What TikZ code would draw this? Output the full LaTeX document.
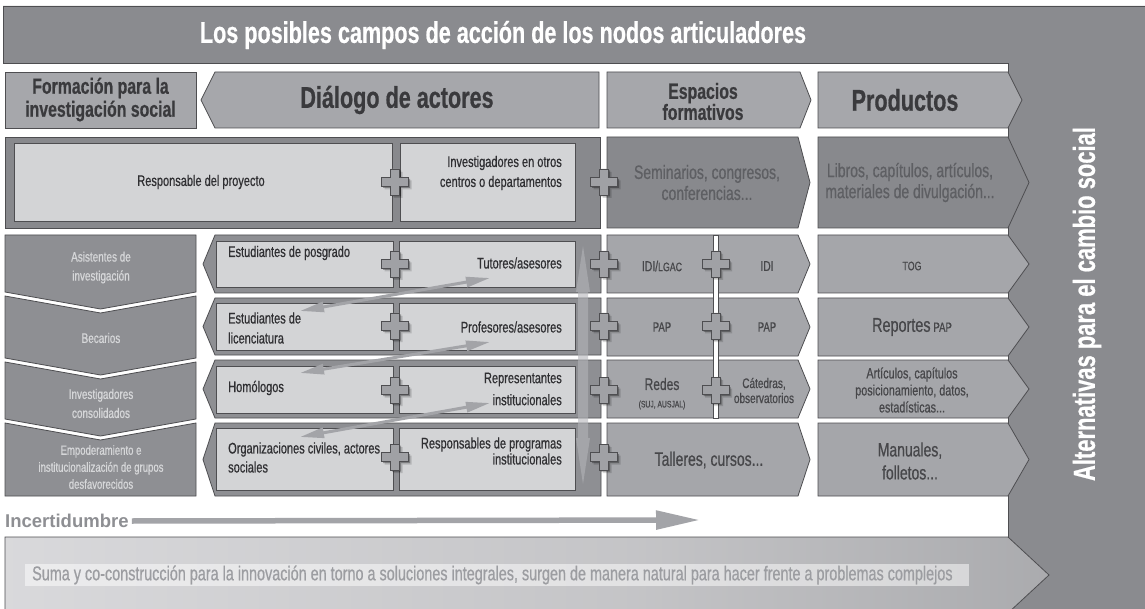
\documentclass[tikz,border=0pt]{standalone}
\usepackage{fontspec}
\setmainfont{Liberation Sans}
\newfontfamily\cnd[FakeStretch=0.72, FakeBold=0.6]{Liberation Sans}
\usetikzlibrary{arrows.meta,shadows}
\definecolor{cbar}{HTML}{8A8B8F}
\definecolor{cedge}{HTML}{4E4E51}
\definecolor{chdr}{HTML}{A6A7AB}
\definecolor{chdrtxt}{HTML}{3A3A3D}
\definecolor{crow}{HTML}{88898D}
\definecolor{cinner}{HTML}{D3D4D6}
\definecolor{cintxt}{HTML}{2F2F32}
\definecolor{crtxt}{HTML}{5E5F63}
\definecolor{cleft}{HTML}{8E8F93}
\definecolor{clefttxt}{HTML}{D6D7D9}
\definecolor{cmid}{HTML}{A5A6AA}
\definecolor{cmidtxt}{HTML}{47474A}
\definecolor{ccross}{HTML}{A0A1A5}
\definecolor{carrow}{HTML}{A3A4A8}
\definecolor{cband}{HTML}{B4B5B9}
\definecolor{cinc}{HTML}{8E8F93}
\definecolor{cbottxt}{HTML}{9C9DA1}
\newcommand{\fs}[2]{\fontsize{#1}{#2}\selectfont}
% right-pointing chevron: x1,y1,x2,y2,depth,style
\newcommand{\rchev}[6]{\path[#6] (#1,#2) -- (#3,#2) -- ({#3+#5},{(#2+#4)/2}) -- (#3,#4) -- (#1,#4) -- cycle;}
% left-pointing chevron: xtip,xbody,y1,x2,y2,style
\newcommand{\lchev}[6]{\path[#6] (#2,#3) -- (#4,#3) -- (#4,#5) -- (#2,#5) -- (#1,{(#3+#5)/2}) -- cycle;}
% down chevron (left column): ytop,topV,ybot,botV,style
\newcommand{\dchev}[5]{\path[#5] (5,#1) -- (100.5,{#1+#2}) -- (196,#1) -- (196,#3) -- (100.5,{#3+#4}) -- (5,#3) -- cycle;}
\pgfdeclarehorizontalshading{botgrad}{100bp}{rgb(0bp)=(0.72,0.72,0.73); rgb(25bp)=(0.85,0.85,0.86); rgb(55bp)=(0.77,0.77,0.78); rgb(100bp)=(0.54,0.545,0.56)}
\tikzset{
  bord/.style={draw=cedge, line width=0.8pt},
  hdr/.style={bord, fill=chdr},
  rowdark/.style={bord, fill=crow},
  innerbox/.style={bord, fill=cinner},
  leftbox/.style={bord, fill=cleft},
  dial/.style={bord, fill=cleft},
  midbox/.style={bord, fill=cmid},
  tTitle/.style={font=\cnd\bfseries\fs{30}{32}, text=white, inner sep=0pt},
  tHdr/.style={font=\cnd\bfseries\fs{30}{32}, text=chdrtxt, inner sep=0pt},
  tHdrS/.style={font=\cnd\bfseries\fs{22}{23}, text=chdrtxt, align=center, inner sep=0pt},
  tIn/.style={font=\cnd\fs{15.3}{20}, text=cintxt, inner sep=0pt},
  tLeft/.style={font=\cnd\fs{13.8}{19}, text=clefttxt, align=center, inner sep=0pt},
  tDark/.style={font=\cnd\fs{19.4}{21}, text=crtxt, align=center, inner sep=0pt},
  tMid/.style={font=\cnd\fs{14.4}{16}, text=cmidtxt, align=center, inner sep=0pt},
  diag/.style={draw=carrow, line width=3pt, {Triangle[length=24pt,width=10pt]}-{Triangle[length=24pt,width=10pt]}},
  pluscross/.pic={\path[draw=cedge, fill=ccross, line width=0.8pt,
      drop shadow={shadow xshift=3pt, shadow yshift=-3pt, opacity=0.15, fill=black},
      drop shadow={shadow xshift=1.5pt, shadow yshift=-1.5pt, opacity=0.3, fill=black}]
      (-13.5,-4.5) -- (-4.5,-4.5) -- (-4.5,-13) -- (4.5,-13) -- (4.5,-4.5) -- (13.5,-4.5)
      -- (13.5,4.5) -- (4.5,4.5) -- (4.5,13) -- (-4.5,13) -- (-4.5,4.5) -- (-13.5,4.5) -- cycle;}
}
\begin{document}
\begin{tikzpicture}[x=1pt,y=-1pt]
\useasboundingbox (0,0) rectangle (1145,609);
\fill[white] (0,0) rectangle (1145,609);
% L-shaped frame: title bar + right column
\path[bord, fill=cbar] (3,6) -- (1146,6) -- (1146,612) -- (1008,612) -- (1008,63) -- (3,63) -- cycle;
\node[tTitle] (title) at (503,35) {Los posibles campos de acción de los nodos articuladores};
\node[font=\cnd\bfseries\fs{30.5}{32}, text=white, inner sep=0pt, rotate=90] (alt) at (1087,304) {Alternativas para el cambio social};

% header row
\path[hdr] (5,72) rectangle (196,128);
\lchev{201}{215}{72}{599}{128}{hdr}
\rchev{607}{72}{800}{128}{11}{hdr}
\rchev{818}{72}{1008}{128}{14}{hdr}
\node[tHdrS] (hform) at (100.5,99.5) {Formación para la\\investigación social};
\node[tHdr] (hdial) at (397,100) {Diálogo de actores};
\node[tHdrS, font=\cnd\bfseries\fs{22}{21}] (hesp) at (703,101.5) {Espacios\\formativos};
\node[tHdr] (hprod) at (905,100) {Productos};

% row 1
\path[rowdark] (5,137) rectangle (600,228);
\path[innerbox] (14,143) rectangle (392,221);
\path[innerbox] (400,143) rectangle (575,221);
\rchev{607}{137}{798}{228}{12}{rowdark}
\rchev{818}{137}{1008}{228}{21}{rowdark}
\node[tIn] (respo) at (201,182) {Responsable del proyecto};
\node[tIn, align=right, anchor=east] (invest) at (562,173) {Investigadores en otros\\centros o departamentos};
\node[tDark] (semin) at (707,182.5) {Seminarios, congresos,\\conferencias...};
\node[tDark] (libros) at (910,182.5) {Libros, capítulos, artículos,\\materiales de divulgación...};

% left column
\dchev{235}{0}{292}{17}{leftbox}
\dchev{296}{17}{358}{17}{leftbox}
\dchev{362}{17}{419}{17}{leftbox}
\dchev{423}{17}{496}{0}{leftbox}
\node[tLeft] (asist) at (101,267.5) {Asistentes de\\investigación};
\node[tLeft] (becar) at (101,338) {Becarios};
\node[tLeft] (invcons) at (101,403.5) {Investigadores\\consolidados};
\node[tLeft, font=\cnd\fs{13.3}{17}] (empod) at (101,467) {Empoderamiento e\\institucionalización de grupos\\desfavorecidos};

% dialogue rows
\lchev{203}{215}{235}{601}{293}{dial}
\path[innerbox] (216,241) rectangle (393,287);
\path[innerbox] (399,241) rectangle (575,287);
\lchev{203}{215}{298}{601}{355}{dial}
\path[innerbox] (216,303) rectangle (393,350);
\path[innerbox] (399,303) rectangle (575,350);
\lchev{203}{215}{360}{601}{418}{dial}
\path[innerbox] (216,366) rectangle (393,413);
\path[innerbox] (399,366) rectangle (575,413);
\lchev{203}{215}{423}{601}{496}{dial}
\path[innerbox] (216,428) rectangle (393,490);
\path[innerbox] (399,428) rectangle (575,490);
\node[tIn, anchor=west] (estpos) at (228,253) {Estudiantes de posgrado};
\node[tIn, anchor=east] (tutor) at (562,263) {Tutores/asesores};
\node[tIn, anchor=west, align=left] (estlic) at (228,328) {Estudiantes de\\licenciatura};
\node[tIn, anchor=east] (profe) at (562,327) {Profesores/asesores};
\node[tIn, anchor=west] (homol) at (228,388) {Homólogos};
\node[tIn, anchor=east, align=right, font=\cnd\fs{15.3}{22}] (repres) at (562,389) {Representantes\\institucionales};
\node[tIn, anchor=west, align=left, font=\cnd\fs{15.3}{19}] (orgciv) at (228,457.5) {Organizaciones civiles, actores\\sociales};
\node[tIn, anchor=east, align=right, font=\cnd\fs{15.3}{16}] (respprog) at (562,451) {Responsables de programas\\institucionales};

% espacios / productos rows
\rchev{607}{235}{798}{293}{12}{midbox}
\rchev{818}{235}{1008}{293}{21}{midbox}
\rchev{607}{298}{798}{356}{12}{midbox}
\rchev{818}{298}{1008}{356}{21}{midbox}
\rchev{607}{360}{798}{418}{12}{midbox}
\rchev{818}{360}{1008}{418}{21}{midbox}
\rchev{607}{423}{798}{496}{12}{midbox}
\rchev{818}{423}{1008}{496}{21}{midbox}
\path[fill=white, draw=cedge, line width=0.7pt] (713,235) rectangle (718,418);
\node[tMid] (idilgac) at (662,266) {IDI/{\fs{12.2}{16}LGAC}};
\node[tMid] (idi) at (767,266) {IDI};
\node[tMid, font=\cnd\fs{12.2}{16}] (tog) at (912,266) {TOG};
\node[tMid, font=\cnd\fs{13.3}{16}] (pap1) at (662,327) {PAP};
\node[tMid, font=\cnd\fs{13.3}{16}] (pap2) at (767,327) {PAP};
\node[tMid] (reppap) at (912,327) {{\fs{20}{20}Reportes} {\fs{13.3}{20}PAP}};
\node[tMid, font=\cnd\fs{16.7}{16}] (redes) at (662,384) {Redes};
\node[tMid, font=\cnd\fs{9.4}{10}] (suj) at (662,405) {(SUJ, AUSJAL)};
\node[tMid, font=\cnd\fs{13.9}{15}] (catedras) at (764,390.5) {Cátedras,\\observatorios};
\node[tMid, font=\cnd\fs{15}{17}] (articulos) at (912,390) {Artículos, capítulos\\posicionamiento, datos,\\estadísticas...};
\node[tMid, font=\cnd\fs{19.4}{21}] (talleres) at (709,460) {Talleres, cursos...};
\node[tMid, font=\cnd\fs{19.4}{23}] (manuales) at (910,461) {Manuales,\\folletos...};

% vertical double arrow band
\path[fill=cband, opacity=0.6] (583,246) -- (590,292) -- (588,292) -- (588,438) -- (590,438) -- (583,484)
  -- (576,438) -- (578,438) -- (578,292) -- (576,292) -- cycle;

% diagonal arrows
\coordinate (a1s) at (300,311); \coordinate (a1e) at (490,278);
\coordinate (a2s) at (300,373); \coordinate (a2e) at (490,342);
\coordinate (a3s) at (300,437); \coordinate (a3e) at (490,403);
\draw[diag] (a1s) -- (a1e);
\draw[diag] (a2s) -- (a2e);
\draw[diag] (a3s) -- (a3e);

% crosses
\foreach \yy in {182,264,326,390,457} {
  \pic at (395,\yy) {pluscross};
  \pic at (604,\yy) {pluscross};
}
\foreach \yy in {264,326,390} {
  \pic at (715.5,\yy) {pluscross};
}

% incertidumbre
\node[font=\bfseries\fs{18.5}{20}, text=cinc, anchor=west, inner sep=1pt] (inc) at (4,521) {Incertidumbre};
\coordinate (incEnd) at (700,520);
\draw[draw=carrow, line width=5.5pt, -{Triangle[length=44pt,width=18pt]}] (inc.east) ++(2,0) -- (incEnd);

% bottom arrow
\path[bord, shade, shading=botgrad] (5,537) -- (1008,537) -- (1049,575) -- (1008,613) -- (5,613) -- cycle;
\fill[white, opacity=0.5] (25,564) rectangle (969,586);
\node[font=\cnd\fs{20}{20}, text=cbottxt, anchor=west, inner sep=0pt] (suma) at (32,575) {Suma y co-construcción para la innovación en torno a soluciones integrales, surgen de manera natural para hacer frente a problemas complejos};
\end{tikzpicture}
\end{document}
